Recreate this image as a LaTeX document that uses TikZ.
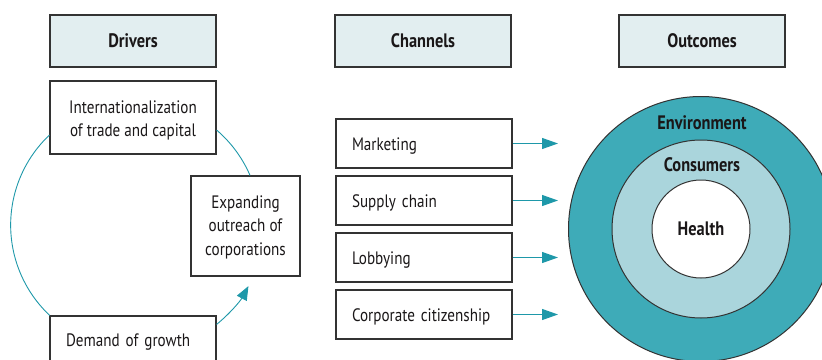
\documentclass[tikz,border=0pt]{standalone}
\usepackage{fontspec}
\setmainfont{PT Sans}[FakeStretch=0.84]
\usetikzlibrary{arrows.meta}
\definecolor{hdrfill}{HTML}{E2EEF0}
\definecolor{teal}{HTML}{3EABB8}
\definecolor{lteal}{HTML}{AAD5DC}
\definecolor{arrcol}{HTML}{1E98A9}
\definecolor{txt}{HTML}{1A1718}
\definecolor{bord}{HTML}{333333}
\tikzset{
  box/.style={draw=bord, line width=1.1pt, fill=white, text=txt, inner sep=0pt, font=\fontsize{18}{23.5}\selectfont},
  hdr/.style={box, fill=hdrfill, font=\fontsize{19.5}{22}\selectfont\bfseries},
  chan/.style={box, minimum height=49pt, text width=144pt, inner xsep=16pt, align=left, text height=18pt, text depth=4pt},
  arc/.style={draw=arrcol, line width=0.9pt},
  arr/.style={draw=arrcol, line width=1.2pt, -{Triangle[length=16pt,width=11pt]}},
  ring/.style={circle, draw=bord, line width=1pt, inner sep=0pt},
  lbl/.style={text=txt, font=\fontsize{19.5}{22}\selectfont\bfseries}
}
\begin{document}
\begin{tikzpicture}[x=1pt,y=-1pt]
\useasboundingbox (0,0) rectangle (822,359);
% headers
\node[hdr, minimum width=166pt, minimum height=52pt] (hD) at (133,41) {Drivers};
\node[hdr, minimum width=176pt, minimum height=52pt] (hC) at (423,41) {Channels};
\node[hdr, minimum width=166pt, minimum height=52pt] (hO) at (702,41) {Outcomes};
% drivers
\node[box, minimum width=166pt, minimum height=73pt, align=center] (int) at (133,117.5) {\rule{0pt}{19pt}Internationalization\\of trade and capital};
\node[box, minimum width=109pt, minimum height=100pt, align=center] (exp) at (245.5,226) {\rule{0pt}{15pt}Expanding\\outreach of\\corporations};
\node[box, minimum width=166pt, minimum height=52pt, text width=134pt, inner xsep=16pt, align=left] (dem) at (133,342) {Demand of growth};
% arcs
\draw[arc] ([yshift=-17.5pt]int.west) arc[start angle=226.6, end angle=133.2, radius=124];
\draw[arc] ([yshift=-12.5pt]int.east) arc[start angle=-49.5, end angle=-23.3, radius=124.5];
\draw[arr, line width=0.9pt, -{Triangle[length=14pt,width=11pt]}] ([yshift=-9pt]dem.north east) arc[start angle=51, end angle=28.5, radius=128];
% channels
\node[chan] (mk) at (424,143.5) {Marketing};
\node[chan] (sc) at (424,200.5) {Supply chain};
\node[chan] (lb) at (424,257.5) {Lobbying};
\node[chan] (cc) at (424,314.5) {Corporate citizenship};
\coordinate (a1) at (558,143.5);
\coordinate (a2) at (558,200.5);
\coordinate (a3) at (558,257.5);
\coordinate (a4) at (558,314.5);
\draw[arr] (mk.east) -- (a1);
\draw[arr] (sc.east) -- (a2);
\draw[arr] (lb.east) -- (a3);
\draw[arr] (cc.east) -- (a4);
% outcomes
\node[ring, fill=teal, minimum size=265pt] (env) at (701,229) {};
\node[ring, fill=lteal, minimum size=178pt] (con) at (701,229) {};
\node[ring, fill=white, minimum size=98pt] (hea) at (701,229) {};
\node[lbl] (envl) at (702,123) {Environment};
\node[lbl] (conl) at (702,165) {Consumers};
\node[lbl] (heal) at (701,229) {Health};
\end{tikzpicture}
\end{document}
